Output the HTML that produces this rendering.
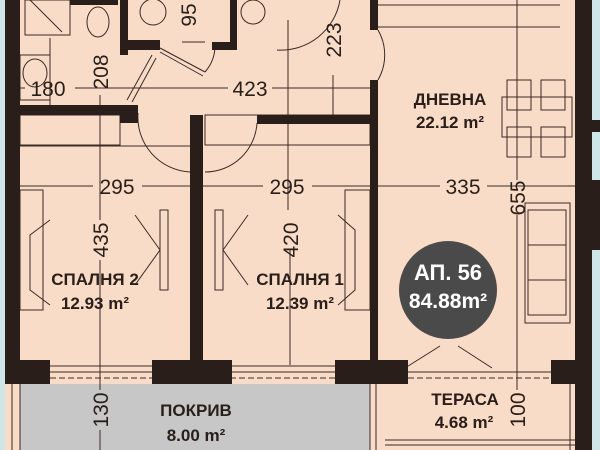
<!DOCTYPE html>
<html><head><meta charset="utf-8"><style>
body{margin:0;background:#f9dcc8}
svg{display:block}
text{font-family:"Liberation Sans",sans-serif}
.d{font-size:21px;fill:#2a1e1a;font-family:"Liberation Sans Narrow","Liberation Sans",sans-serif}
.b{font-size:17px;font-weight:bold;fill:#2a1e1a;font-family:"Liberation Sans Narrow","Liberation Sans",sans-serif}
</style></head><body>
<svg width="600" height="450" viewBox="0 0 600 450" xmlns="http://www.w3.org/2000/svg">
<rect width="600" height="450" fill="#f9dcc8"/>
<rect x="0" y="0" width="5" height="450" fill="#cfe6e8"/>
<rect x="592" y="0" width="8" height="450" fill="#cfe6e8"/>
<rect x="592" y="120" width="8" height="12" fill="#2a1e1a"/>
<rect x="592" y="180" width="8" height="70" fill="#2a1e1a"/>
<rect x="20" y="384" width="350" height="66" fill="#c7c7c7"/>
<g stroke="#3a2a24" stroke-width="1" fill="none">
<line x1="20" y1="384" x2="20" y2="450"/><line x1="12" y1="384" x2="12" y2="450"/>
<line x1="370" y1="384" x2="370" y2="450"/><line x1="376" y1="384" x2="376" y2="450"/>
<line x1="385" y1="440" x2="575" y2="440"/><line x1="385" y1="445" x2="575" y2="445"/>
<line x1="570" y1="384" x2="570" y2="450"/>
<line x1="50" y1="366" x2="152" y2="366"/><line x1="50" y1="372" x2="152" y2="372"/><line x1="50" y1="378" x2="152" y2="378" stroke-dasharray="6 3"/>
<line x1="230" y1="366" x2="335" y2="366"/><line x1="230" y1="372" x2="335" y2="372"/><line x1="230" y1="378" x2="335" y2="378" stroke-dasharray="6 3"/>
<line x1="408" y1="372" x2="551" y2="372"/><line x1="408" y1="378" x2="551" y2="378" stroke-dasharray="6 3"/>
<line x1="20" y1="88" x2="25" y2="88"/><line x1="75" y1="88" x2="228" y2="88"/><line x1="272" y1="88" x2="370" y2="88"/>
<line x1="20" y1="186" x2="93" y2="186"/><line x1="142" y1="186" x2="263" y2="186"/><line x1="312" y1="186" x2="440" y2="186"/><line x1="487" y1="186" x2="575" y2="186"/>
<line x1="100" y1="95" x2="100" y2="220"/><line x1="100" y1="260" x2="100" y2="390"/><line x1="100" y1="430" x2="100" y2="450"/>
<line x1="288" y1="20" x2="288" y2="210"/>
<line x1="333" y1="75" x2="333" y2="120"/><line x1="290" y1="250" x2="290" y2="365"/>
<line x1="517" y1="0" x2="517" y2="180"/><line x1="517" y1="215" x2="517" y2="390"/>
<line x1="182" y1="42" x2="205" y2="42"/>
<line x1="378" y1="5" x2="560" y2="5"/><line x1="378" y1="27" x2="560" y2="27"/>
<rect x="502" y="97" width="70" height="40"/>
<rect x="507" y="80" width="24" height="30"/><rect x="541" y="80" width="24" height="30"/>
<rect x="507" y="127" width="24" height="30"/><rect x="541" y="127" width="24" height="30"/>
<rect x="525" y="203" width="45" height="120"/><rect x="528" y="210" width="38" height="105"/>
<line x1="528" y1="245" x2="566" y2="245"/><line x1="528" y1="280" x2="566" y2="280"/>
<rect x="20" y="115" width="100" height="30"/><line x1="20" y1="146" x2="190" y2="146"/>
<rect x="20" y="190" width="23" height="120"/>
<polyline points="50,220 30,235 30,290 50,305"/>
<rect x="205" y="115" width="165" height="30"/>
<rect x="345" y="190" width="25" height="120"/>
<polyline points="338,215 355,230 355,290 338,305"/>
<rect x="160" y="210" width="8" height="80"/><rect x="215" y="210" width="8" height="80"/>
<line x1="135" y1="215" x2="160" y2="250"/><line x1="135" y1="285" x2="160" y2="250"/>
<line x1="248" y1="215" x2="223" y2="250"/><line x1="248" y1="285" x2="223" y2="250"/>
<rect x="25" y="0" width="45" height="35"/><line x1="30" y1="0" x2="62" y2="32"/>
<line x1="50" y1="38" x2="50" y2="105"/><rect x="20" y="55" width="30" height="45"/>
<ellipse cx="35" cy="73" rx="12" ry="14"/>
<ellipse cx="98" cy="22" rx="11" ry="15"/>
<ellipse cx="153" cy="12" rx="13" ry="13"/>
<ellipse cx="253" cy="12" rx="12" ry="12"/>
<path d="M138 113 A55 55 0 0 0 190 172"/>
<path d="M257 123 A52 52 0 0 1 205 172"/>
<path d="M378 30 A50 50 0 0 1 378 80"/>
<path d="M277 50 A60 60 0 0 0 340 0"/>
<line x1="127" y1="100" x2="152" y2="55"/><line x1="132" y1="102" x2="156" y2="58"/>
<line x1="160" y1="48" x2="205" y2="72"/><line x1="160" y1="52" x2="203" y2="76"/>
<path d="M205 72 A40 40 0 0 0 215 45"/>
<line x1="405" y1="368" x2="440" y2="346"/><line x1="492" y1="368" x2="458" y2="346"/>
</g>
<g fill="#2a1e1a">
<rect x="5" y="0" width="15" height="384"/>
<rect x="20" y="105" width="105" height="10"/>
<rect x="120" y="105" width="18" height="18"/>
<rect x="120" y="0" width="8" height="55"/>
<rect x="120" y="40" width="40" height="10"/>
<rect x="70" y="0" width="48" height="5"/>
<rect x="212" y="42" width="25" height="8"/>
<rect x="230" y="0" width="7" height="50"/>
<rect x="257" y="115" width="113" height="9"/>
<rect x="190" y="115" width="13" height="250"/>
<rect x="370" y="0" width="8" height="30"/>
<rect x="370" y="80" width="8" height="285"/>
<rect x="575" y="0" width="17" height="450"/>
<rect x="20" y="360" width="30" height="24"/>
<rect x="152" y="360" width="80" height="24"/>
<rect x="335" y="360" width="73" height="24"/>
<rect x="551" y="360" width="24" height="24"/>
</g>
<circle cx="448" cy="290" r="49" fill="#4a4a4a"/>
<text x="448" y="280" text-anchor="middle" font-size="22" font-weight="bold" fill="#fff">АП. 56</text>
<text x="448" y="308" text-anchor="middle" font-size="21" font-weight="bold" fill="#fff">84.88m²</text>
<text class="b" x="450" y="105" text-anchor="middle">ДНЕВНА</text>
<text class="b" x="450" y="128" text-anchor="middle">22.12 m²</text>
<text class="b" x="95" y="285" text-anchor="middle">СПАЛНЯ 2</text>
<text class="b" x="95" y="309" text-anchor="middle">12.93 m²</text>
<text class="b" x="300" y="285" text-anchor="middle">СПАЛНЯ 1</text>
<text class="b" x="300" y="309" text-anchor="middle">12.39 m²</text>
<text class="b" x="196" y="416" text-anchor="middle">ПОКРИВ</text>
<text class="b" x="196" y="441" text-anchor="middle">8.00 m²</text>
<text class="b" x="465" y="405" text-anchor="middle">ТЕРАСА</text>
<text class="b" x="464" y="428" text-anchor="middle">4.68 m²</text>
<text class="d" x="48" y="96" text-anchor="middle">180</text>
<text class="d" x="250" y="96" text-anchor="middle">423</text>
<text class="d" x="117" y="194" text-anchor="middle">295</text>
<text class="d" x="287" y="194" text-anchor="middle">295</text>
<text class="d" x="463" y="194" text-anchor="middle">335</text>
<text class="d" transform="translate(108,72) rotate(-90)" text-anchor="middle">208</text>
<text class="d" transform="translate(196,15) rotate(-90)" text-anchor="middle">95</text>
<text class="d" transform="translate(341,40) rotate(-90)" text-anchor="middle">223</text>
<text class="d" transform="translate(108,240) rotate(-90)" text-anchor="middle">435</text>
<text class="d" transform="translate(298,240) rotate(-90)" text-anchor="middle">420</text>
<text class="d" transform="translate(525,198) rotate(-90)" text-anchor="middle">655</text>
<text class="d" transform="translate(108,410) rotate(-90)" text-anchor="middle">130</text>
<text class="d" transform="translate(525,410) rotate(-90)" text-anchor="middle">100</text>
</svg>
</body></html>
